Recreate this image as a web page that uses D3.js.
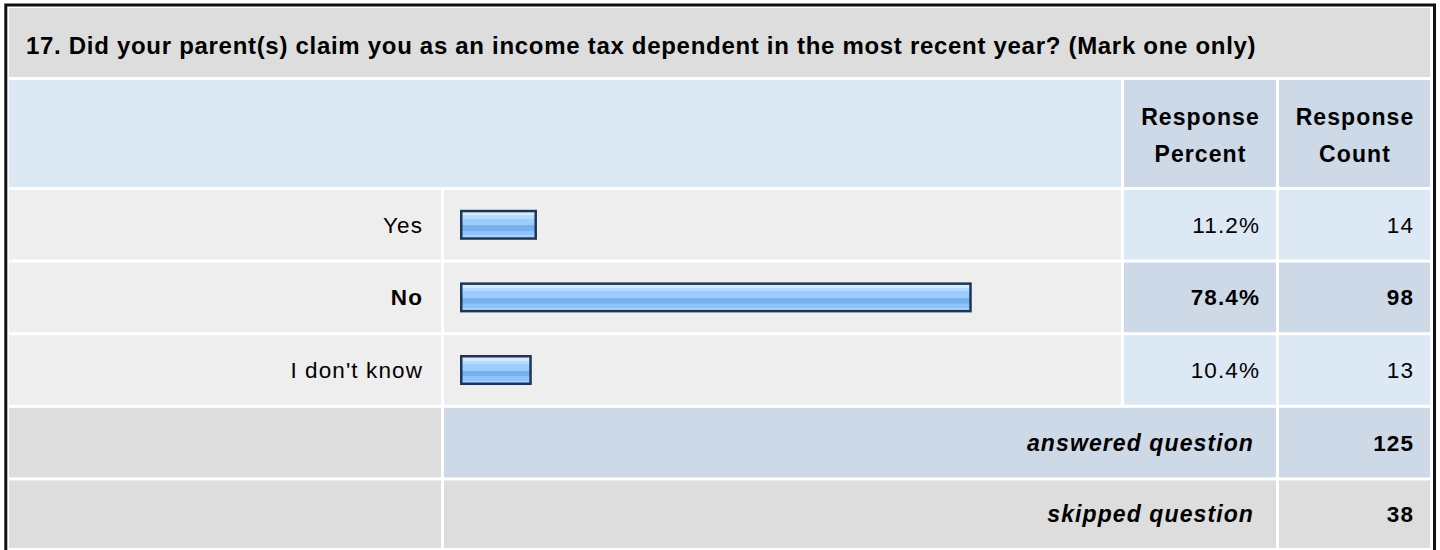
<!DOCTYPE html>
<html>
<head>
<meta charset="utf-8">
<script src="https://cdn.jsdelivr.net/npm/d3@7"></script>
<style>
  html, body { margin: 0; padding: 0; background: #ffffff; }
  svg { display: block; }
  text { font-family: "Liberation Sans", Arial, sans-serif; fill: #000; }
</style>
</head>
<body>
<svg id="chart" width="1440" height="550"></svg>
<script>
// ---- data ----
const questionTitle = "17. Did your parent(s) claim you as an income tax dependent in the most recent year? (Mark one only)";
const headerLabels = [["Response", "Percent"], ["Response", "Count"]];
const categories = ["Yes", "No", "I don't know"];
const percents = [11.2, 78.4, 10.4];
const counts = [14, 98, 13];
const summaryLabels = ["answered question", "skipped question"];
const summaryValues = [125, 38];

// ---- layout ----
const svg = d3.select("#chart");
const gap = 3;
const colLabel = [9, 441], colBar = [444, 1121], colPct = [1124, 1276], colCnt = [1279, 1430];
const titleBand = [8, 77], headBand = [80, 187];
const rowTop = 190, rowH = 69;
const fs = 22.5;

const c = {
  title: "#dddddd", head: "#dde8f5", headDark: "#cdd9e7",
  row: "#eeeeee", cellLight: "#dde8f5", cellDark: "#cdd9e7", summaryGrey: "#dddddd"
};

const defs = svg.append("defs");
const grad = defs.append("linearGradient").attr("id", "barGrad")
  .attr("x1", 0).attr("y1", 0).attr("x2", 0).attr("y2", 1);
[
  [0, "#d3eaff"], [0.12, "#d3eaff"], [0.13, "#b4dbff"], [0.25, "#b4dbff"],
  [0.26, "#9dccff"], [0.52, "#9dccff"], [0.53, "#79afeb"], [0.74, "#79afeb"],
  [0.75, "#8fc3fd"], [0.92, "#8fc3fd"], [0.93, "#a9d5ff"], [1, "#a9d5ff"]
].forEach(([o, col]) => grad.append("stop").attr("offset", o).attr("stop-color", col));

function cell(x0, x1, y0, y1, fill) {
  svg.append("rect").attr("x", x0).attr("y", y0).attr("width", x1 - x0).attr("height", y1 - y0).attr("fill", fill);
}

// rows via band scale
const allRows = categories.concat(summaryLabels);
const y = d3.scaleBand().domain(d3.range(allRows.length))
  .range([rowTop, rowTop + allRows.length * (rowH + gap)])
  .paddingInner(gap / (rowH + gap)).paddingOuter(0);

const x = d3.scaleLinear().domain([0, 100]).range([460, 1107]);

// title
cell(colLabel[0], colCnt[1], titleBand[0], titleBand[1], c.title);
svg.append("text").attr("x", 26).attr("y", 45).attr("dy", "0.36em")
  .attr("font-size", 24).attr("font-weight", "bold").attr("letter-spacing", 0.7)
  .text(questionTitle);

// header
cell(colLabel[0], colBar[1], headBand[0], headBand[1], c.head);
[colPct, colCnt].forEach((col, i) => {
  cell(col[0], col[1], headBand[0], headBand[1], c.headDark);
  headerLabels[i].forEach((s, j) => {
    svg.append("text").attr("x", (col[0] + col[1]) / 2 + 0.5).attr("text-anchor", "middle")
      .attr("y", 125 + j * 36.7)
      .attr("font-size", 23).attr("font-weight", "bold").attr("letter-spacing", 1.1)
      .text(s);
  });
});

// data rows
const maxP = d3.max(percents);
categories.forEach((cat, i) => {
  const y0 = y(i), y1 = y(i) + y.bandwidth(), cy = (y0 + y1) / 2;
  const isMax = percents[i] === maxP;
  cell(colLabel[0], colLabel[1], y0, y1, c.row);
  cell(colBar[0], colBar[1], y0, y1, c.row);
  cell(colPct[0], colPct[1], y0, y1, isMax ? c.cellDark : c.cellLight);
  cell(colCnt[0], colCnt[1], y0, y1, isMax ? c.cellDark : c.cellLight);
  const fw = isMax ? "bold" : "normal";
  svg.append("text").attr("x", colLabel[1] - 18).attr("y", cy).attr("dy", "0.36em")
    .attr("text-anchor", "end").attr("font-size", fs).attr("font-weight", fw).attr("letter-spacing", 1.1).text(cat);
  svg.append("text").attr("x", colPct[1] - 16).attr("y", cy).attr("dy", "0.36em")
    .attr("text-anchor", "end").attr("font-size", fs).attr("font-weight", fw).attr("letter-spacing", 1.1)
    .text(percents[i].toFixed(1) + "%");
  svg.append("text").attr("x", colCnt[1] - 16).attr("y", cy).attr("dy", "0.36em")
    .attr("text-anchor", "end").attr("font-size", fs).attr("font-weight", fw).attr("letter-spacing", 1.1)
    .text(counts[i]);
  // bar
  const bw = x(percents[i]) - x(0) + 4.5, bh = 30, by = cy - bh / 2;
  svg.append("rect").attr("x", x(0)).attr("y", by).attr("width", bw).attr("height", bh).attr("fill", "#1d3556");
  svg.append("rect").attr("x", x(0) + 2.5).attr("y", by + 2.5).attr("width", bw - 5).attr("height", bh - 5)
    .attr("fill", "url(#barGrad)");
});

// summary rows
summaryLabels.forEach((lab, k) => {
  const i = categories.length + k;
  const y0 = y(i), y1 = (k === summaryLabels.length - 1) ? 548 : y(i) + y.bandwidth(), cy = (y0 + y1) / 2;
  const fill = k === 0 ? c.cellDark : c.summaryGrey;
  cell(colLabel[0], colLabel[1], y0, y1, c.summaryGrey);
  cell(colBar[0], colPct[1], y0, y1, fill);
  cell(colCnt[0], colCnt[1], y0, y1, fill);
  svg.append("text").attr("x", colPct[1] - 22).attr("y", cy).attr("dy", "0.36em")
    .attr("text-anchor", "end").attr("font-size", 23).attr("font-weight", "bold").attr("font-style", "italic")
    .attr("letter-spacing", 1.1).text(lab);
  svg.append("text").attr("x", colCnt[1] - 16).attr("y", cy).attr("dy", "0.36em")
    .attr("text-anchor", "end").attr("font-size", fs).attr("font-weight", "bold")
    .attr("letter-spacing", 1.1).text(summaryValues[k]);
});

// outer frame
svg.append("rect").attr("x", 5.8).attr("y", 5).attr("width", 1434.5 - 5.8).attr("height", 600)
  .attr("fill", "none").attr("stroke", "#111").attr("stroke-width", 3);
</script>
</body>
</html>
